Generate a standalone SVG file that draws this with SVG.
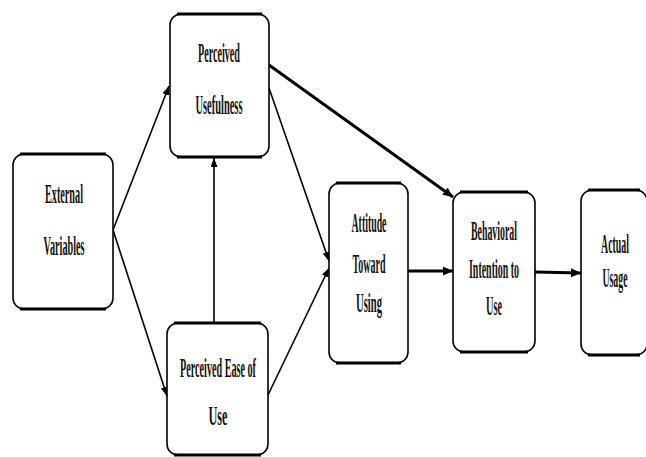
<svg xmlns="http://www.w3.org/2000/svg" width="646" height="457" viewBox="0 0 646 457">
<style>
.box{fill:#fff;stroke:#000;stroke-width:1.6}
.edge{stroke:#000;stroke-width:3;stroke-linecap:butt}
.t{font-family:"Liberation Serif","Times New Roman",serif;font-weight:bold;font-size:28px;fill:#111;text-anchor:middle}
.thin{fill:none;stroke:#000;stroke-width:1.6}
.thick{fill:none;stroke:#000;stroke-width:3}
</style>
<defs>
<marker id="ah" markerUnits="userSpaceOnUse" markerWidth="10" markerHeight="8" refX="9" refY="3.5" orient="auto">
<path d="M0,0 L9,3.5 L0,7 z" fill="#000"/>
</marker>
<marker id="ahk" markerUnits="userSpaceOnUse" markerWidth="12" markerHeight="10" refX="10" refY="4.5" orient="auto">
<path d="M0,0 L10,4.5 L0,9 z" fill="#000"/>
</marker>
</defs>
<rect width="646" height="457" fill="#fff"/>
<g id="connectors">
<line class="thin" x1="113" y1="230" x2="169" y2="86" marker-end="url(#ah)"/>
<line class="thin" x1="113" y1="230" x2="167" y2="396" marker-end="url(#ah)"/>
<line class="thin" x1="214" y1="323" x2="214" y2="158" marker-end="url(#ah)"/>
<line class="thin" x1="269" y1="88" x2="329" y2="261" marker-end="url(#ah)"/>
<line class="thin" x1="268" y1="395" x2="329" y2="268" marker-end="url(#ah)"/>
<line class="thick" x1="269" y1="65" x2="453" y2="197" marker-end="url(#ahk)"/>
<line class="thick" x1="408" y1="271" x2="453" y2="271" marker-end="url(#ahk)"/>
<line class="thick" x1="535" y1="272" x2="581" y2="273" marker-end="url(#ahk)"/>
</g>
<g id="external-variables">
<rect class="box" x="13" y="154" width="100" height="155" rx="11"/>
<line class="edge" x1="20" y1="154" x2="106" y2="154"/><line class="edge" x1="20" y1="309" x2="106" y2="309"/>
<g transform="scale(0.4,1)">
<text class="t" x="160" y="203" textLength="95" lengthAdjust="spacingAndGlyphs">External</text>
<text class="t" x="160" y="255" textLength="102.5" lengthAdjust="spacingAndGlyphs">Variables</text>
</g>
</g>
<g id="perceived-usefulness">
<rect class="box" x="170" y="14" width="99" height="143" rx="11"/>
<line class="edge" x1="177" y1="14" x2="262" y2="14"/><line class="edge" x1="177" y1="157" x2="262" y2="157"/>
<g transform="scale(0.4,1)">
<text class="t" x="547.5" y="62" textLength="105" lengthAdjust="spacingAndGlyphs">Perceived</text>
<text class="t" x="547.5" y="114" textLength="117.5" lengthAdjust="spacingAndGlyphs">Usefulness</text>
</g>
</g>
<g id="perceived-ease-of-use">
<rect class="box" x="167" y="323" width="101" height="132" rx="11"/>
<line class="edge" x1="174" y1="323" x2="261" y2="323"/><line class="edge" x1="174" y1="455" x2="261" y2="455"/>
<g transform="scale(0.4,1)">
<text class="t" x="545" y="377" textLength="190" lengthAdjust="spacingAndGlyphs">Perceived Ease of</text>
<text class="t" x="545" y="425" textLength="47.5" lengthAdjust="spacingAndGlyphs">Use</text>
</g>
</g>
<g id="attitude-toward-using">
<rect class="box" x="329" y="183" width="79" height="180" rx="11"/>
<line class="edge" x1="336" y1="183" x2="401" y2="183"/><line class="edge" x1="336" y1="363" x2="401" y2="363"/>
<g transform="scale(0.4,1)">
<text class="t" x="922.5" y="232" textLength="87.5" lengthAdjust="spacingAndGlyphs">Attitude</text>
<text class="t" x="922.5" y="273" textLength="82.5" lengthAdjust="spacingAndGlyphs">Toward</text>
<text class="t" x="922.5" y="312" textLength="65" lengthAdjust="spacingAndGlyphs">Using</text>
</g>
</g>
<g id="behavioral-intention">
<rect class="box" x="453" y="192" width="82" height="160" rx="11"/>
<line class="edge" x1="460" y1="192" x2="528" y2="192"/><line class="edge" x1="460" y1="352" x2="528" y2="352"/>
<g transform="scale(0.4,1)">
<text class="t" x="1235" y="240" textLength="115" lengthAdjust="spacingAndGlyphs">Behavioral</text>
<text class="t" x="1235" y="278" textLength="125" lengthAdjust="spacingAndGlyphs">Intention to</text>
<text class="t" x="1235" y="315" textLength="40" lengthAdjust="spacingAndGlyphs">Use</text>
</g>
</g>
<g id="actual-usage">
<rect class="box" x="581" y="190" width="66" height="165" rx="11"/>
<line class="edge" x1="588" y1="190" x2="640" y2="190"/><line class="edge" x1="588" y1="355" x2="640" y2="355"/>
<g transform="scale(0.4,1)">
<text class="t" x="1537.5" y="253" textLength="70" lengthAdjust="spacingAndGlyphs">Actual</text>
<text class="t" x="1537.5" y="287" textLength="62.5" lengthAdjust="spacingAndGlyphs">Usage</text>
</g>
</g>
</svg>
